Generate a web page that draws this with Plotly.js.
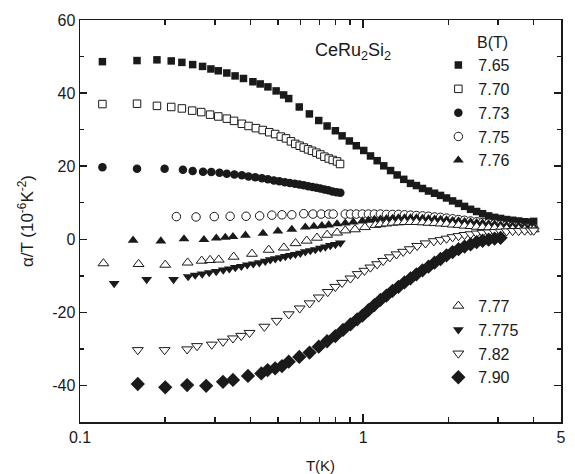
<!DOCTYPE html>
<html>
<head>
<meta charset="utf-8">
<script src="https://cdn.plot.ly/plotly-3.0.1.min.js"></script>
<style>
html,body{margin:0;padding:0;background:#fff;}
#chart{width:575px;height:474px;}
</style>
</head>
<body>
<div id="chart"></div>
<script>
// Series labels (field B in tesla)
const labels = ["7.65","7.70","7.73","7.75","7.76","7.77","7.775","7.82","7.90"];

// T (K) and alpha/T (1e-6 K^-2) for each field
const t765 = [0.120,0.159,0.187,0.210,0.229,0.250,0.271,0.290,0.308,0.330,0.353,0.378,0.408,0.433,0.461,0.493,0.524,0.546,0.595,0.646,0.697,0.746,0.798,0.843,0.894,0.946,1.005,1.062,1.121,1.183,1.250,1.319,1.392,1.470,1.543,1.621,1.702,1.788,1.877,1.971,2.070,2.173,2.282,2.396,2.517,2.642,2.775,2.914,3.059,3.212,3.374,3.543,3.720,3.906,4.003];
const a765 = [48.6,48.9,49.1,48.8,48.4,47.8,47.3,46.6,46.1,45.5,44.7,44.0,43.1,42.5,41.7,40.6,39.5,38.5,36.2,34.3,32.5,31.0,29.7,28.3,26.9,25.6,24.3,22.8,21.5,20.1,18.8,17.6,16.4,15.3,14.7,13.9,13.2,12.6,12.0,11.3,10.5,9.8,9.0,8.2,7.6,7.0,6.4,6.0,5.7,5.4,5.2,5.0,4.8,4.7,4.9];

const t770 = [0.120,0.159,0.187,0.210,0.229,0.249,0.268,0.288,0.308,0.330,0.350,0.373,0.394,0.418,0.442,0.466,0.489,0.512,0.534,0.556,0.576,0.597,0.617,0.639,0.660,0.684,0.706,0.730,0.756,0.781,0.809,0.829];
const a770 = [37.0,37.1,36.5,36.2,35.8,35.2,34.8,34.1,33.6,33.0,32.4,31.6,31.0,30.4,29.9,29.3,28.8,28.1,27.6,26.8,26.1,25.6,25.1,24.6,24.2,23.7,23.2,22.6,22.1,21.7,21.3,20.6];

const t773 = [0.120,0.159,0.199,0.231,0.250,0.272,0.291,0.311,0.330,0.351,0.373,0.394,0.416,0.439,0.461,0.484,0.506,0.529,0.551,0.574,0.595,0.617,0.640,0.662,0.684,0.706,0.730,0.754,0.779,0.805,0.831];
const a773 = [19.7,19.3,19.3,19.0,18.7,18.5,18.4,18.2,17.9,17.7,17.5,17.2,17.0,16.7,16.4,16.1,15.9,15.6,15.4,15.2,15.0,14.8,14.5,14.3,14.1,13.9,13.6,13.4,13.1,12.9,12.7];

const t775 = [0.219,0.257,0.298,0.339,0.386,0.431,0.476,0.517,0.560,0.617,0.665,0.711,0.756,0.784,0.865,0.902,0.947,0.994,1.044,1.096,1.151,1.209,1.270,1.333,1.400,1.470,1.543,1.621,1.702,1.788,1.877,1.971,2.070,2.173,2.282,2.396,2.517,2.642,2.775,2.914,3.059,3.212,3.374,3.543,3.720,3.906,4.003];
const a775 = [6.2,6.1,6.2,6.3,6.3,6.4,6.6,6.7,6.7,7.0,6.9,6.9,6.9,6.9,6.9,6.9,6.9,6.9,6.9,6.9,6.9,6.8,6.8,6.8,6.7,6.6,6.5,6.4,6.3,6.1,6.0,5.8,5.6,5.4,5.2,5.0,4.8,4.6,4.4,4.2,4.0,3.8,3.6,3.5,3.3,3.2,3.1];

const t776 = [0.154,0.193,0.233,0.274,0.303,0.326,0.347,0.384,0.443,0.500,0.560,0.625,0.670,0.715,0.756,0.809,0.865,0.923,0.994,1.044,1.096,1.151,1.209,1.270,1.333,1.400,1.470,1.543,1.621,1.702,1.788,1.877,1.971,2.070,2.173,2.282,2.396,2.517,2.642,2.775,2.914,3.059,3.212,3.374,3.543,3.720,3.906,4.003];
const a776 = [-0.3,-0.5,0.1,-0.1,0.3,0.5,0.7,1.1,1.6,2.2,2.7,3.3,3.5,3.7,3.9,4.2,4.4,4.7,5.0,5.2,5.4,5.5,5.6,5.7,5.8,5.8,5.8,5.8,5.7,5.6,5.5,5.4,5.3,5.1,5.0,4.8,4.7,4.5,4.4,4.2,4.1,3.9,3.8,3.7,3.6,3.5,3.4,3.4];

const t777 = [0.121,0.161,0.200,0.240,0.269,0.288,0.309,0.349,0.405,0.464,0.525,0.577,0.632,0.687,0.746,0.809,0.865,0.936,1.015,1.105,1.151,1.209,1.270,1.333,1.400,1.470,1.543,1.621,1.702,1.788,1.877,1.971,2.070,2.173,2.282,2.396,2.517,2.642,2.775,2.914,3.059,3.212,3.374,3.543,3.720,3.906,4.003];
const a777 = [-6.6,-6.8,-7.0,-6.4,-5.9,-5.7,-5.6,-4.8,-4.0,-2.9,-2.3,-1.1,-0.4,0.4,1.2,1.8,2.4,2.7,3.3,3.9,4.1,4.3,4.5,4.6,4.7,4.7,4.7,4.6,4.5,4.4,4.3,4.2,4.0,3.9,3.7,3.6,3.4,3.3,3.2,3.1,3.0,2.9,2.8,2.8,2.7,2.7,2.7];

const t7775 = [0.132,0.172,0.214,0.241,0.2551,0.2701,0.2860,0.3028,0.3206,0.3368,0.3537,0.3713,0.3898,0.4093,0.4298,0.4513,0.4700,0.4895,0.5099,0.5311,0.5532,0.5761,0.6001,0.6250,0.6510,0.6780,0.7063,0.7356,0.7661,0.7980,0.8311];
const a7775 = [-12.1,-11.0,-11.0,-10.2,-9.8,-9.5,-9.1,-8.8,-8.4,-8.1,-7.7,-7.4,-7.0,-6.7,-6.4,-6.0,-5.6,-5.3,-5.0,-4.7,-4.4,-4.1,-3.8,-3.4,-3.1,-2.8,-2.4,-2.1,-1.7,-1.4,-1.0];

const t782 = [0.160,0.199,0.239,0.259,0.292,0.320,0.347,0.371,0.397,0.448,0.495,0.546,0.597,0.647,0.697,0.750,0.798,0.843,0.902,0.957,1.011,1.061,1.121,1.177,1.242,1.312,1.385,1.462,1.552,1.661,1.777,1.877,1.971,2.070,2.173,2.282,2.396,2.517,2.642,2.775,2.914,3.059,3.212,3.374,3.543,3.720,3.906,4.003];
const a782 = [-30.3,-30.3,-30.1,-29.2,-28.8,-28.0,-27.1,-26.4,-25.6,-23.9,-22.3,-20.5,-18.9,-17.5,-15.9,-14.4,-13.0,-11.9,-10.7,-9.5,-8.6,-7.7,-6.8,-5.9,-4.9,-4.1,-3.4,-2.7,-1.8,-1.1,-0.5,-0.2,0.2,0.6,0.9,1.2,1.4,1.6,1.8,1.9,2.0,2.1,2.2,2.3,2.3,2.4,2.4,2.4];

const t790 = [0.160,0.200,0.239,0.279,0.320,0.347,0.392,0.437,0.460,0.489,0.517,0.546,0.595,0.647,0.697,0.746,0.798,0.849,0.902,0.953,0.994,1.044,1.096,1.151,1.209,1.270,1.333,1.400,1.470,1.543,1.621,1.702,1.788,1.877,1.971,2.070,2.173,2.282,2.396,2.517,2.642,2.775,2.914,3.059];
const a790 = [-39.6,-40.5,-39.9,-40.1,-39.0,-38.5,-37.4,-36.7,-35.8,-35.3,-34.7,-33.5,-32.2,-31.0,-29.4,-27.9,-26.5,-24.8,-23.3,-21.9,-20.9,-19.4,-18.0,-16.6,-15.4,-14.1,-13.0,-11.8,-10.7,-9.6,-8.5,-7.5,-6.4,-5.4,-4.4,-3.5,-2.7,-2.0,-1.4,-0.8,-0.4,-0.1,0.2,0.4];

// Axis ticks
const xTickVals = [0.1, 1, 5];
const xTickText = ["0.1", "1", "5"];
const xMinorVals = [0.2,0.3,0.4,0.5,0.6,0.7,0.8,0.9,2,3,4];
const yTickVals = [-40,-20,0,20,40,60];
const yTickText = ["-40","-20","0","20","40","60"];
const yMinorVals = [-50,-30,-10,10,30,50];

const INK = "#1a1a1a";
function mk(x, y, name, symbol, size, open, legend) {
  return {
    type: "scatter", mode: "markers", x: x, y: y, name: name,
    legend: legend,
    marker: open
      ? {symbol: symbol, size: size, color: "#ffffff", line: {color: INK, width: 1}}
      : {symbol: symbol, size: size, color: INK, line: {color: INK, width: 0}},
    hoverinfo: "skip"
  };
}

const data = [
  mk(t765, a765, labels[0], "square", 7.5, false, "legend"),
  mk(t770, a770, labels[1], "square", 7.5, true, "legend"),
  mk(t773, a773, labels[2], "circle", 8.5, false, "legend"),
  mk(t775, a775, labels[3], "circle", 8.5, true, "legend"),
  mk(t776, a776, labels[4], "triangle-up", 9.5, false, "legend"),
  mk(t777, a777, labels[5], "triangle-up", 9.5, true, "legend2"),
  mk(t7775, a7775, labels[6], "triangle-down", 9.5, false, "legend2"),
  mk(t782, a782, labels[7], "triangle-down", 9.5, true, "legend2"),
  mk(t790, a790, labels[8], "diamond", 11, false, "legend2")
];

const FONT = "Liberation Sans, Arial, sans-serif";
const layout = {
  width: 575, height: 474,
  margin: {l: 80, r: 14, t: 20, b: 52},
  paper_bgcolor: "#ffffff", plot_bgcolor: "#ffffff",
  font: {family: FONT, size: 16, color: INK},
  showlegend: true,
  xaxis: {
    type: "log", range: [-1, 0.69897],
    tickmode: "array", tickvals: xTickVals, ticktext: xTickText,
    ticks: "inside", ticklen: 8, tickwidth: 1.5, tickcolor: INK,
    minor: {tickmode: "array", tickvals: xMinorVals, ticks: "inside", ticklen: 5, tickwidth: 1.5, tickcolor: INK},
    showline: true, linecolor: INK, linewidth: 1.5, mirror: "ticks",
    showgrid: false, zeroline: false,
    tickfont: {family: FONT, size: 16, color: INK},
    title: {text: "T(K)", font: {family: FONT, size: 15, color: INK}, standoff: 16}
  },
  yaxis: {
    range: [-50, 60],
    tickmode: "array", tickvals: yTickVals, ticktext: yTickText,
    ticks: "inside", ticklen: 7, tickwidth: 1.5, tickcolor: INK,
    minor: {tickmode: "array", tickvals: yMinorVals, ticks: "inside", ticklen: 4, tickwidth: 1.5, tickcolor: INK},
    showline: true, linecolor: INK, linewidth: 1.5, mirror: "ticks",
    showgrid: false, zeroline: false,
    tickfont: {family: FONT, size: 16, color: INK},
    title: {text: "α/T (10<sup>-6</sup>K<sup>-2</sup>)", font: {family: FONT, size: 17, color: INK}, standoff: 14}
  },
  legend: {
    x: 0.745, y: 0.93, xanchor: "left", yanchor: "top",
    bgcolor: "rgba(0,0,0,0)", borderwidth: 0,
    font: {family: FONT, size: 16, color: INK},
    tracegroupgap: 0, itemclick: false
  },
  legend2: {
    x: 0.745, y: 0.331, xanchor: "left", yanchor: "top",
    bgcolor: "rgba(0,0,0,0)", borderwidth: 0,
    font: {family: FONT, size: 16, color: INK},
    tracegroupgap: 0, itemclick: false
  },
  annotations: [
    {xref: "paper", yref: "paper", x: 0.858, y: 0.945, text: "B(T)", showarrow: false,
     xanchor: "center", yanchor: "middle", font: {family: FONT, size: 16, color: INK}},
    {xref: "paper", yref: "paper", x: 0.567, y: 0.922, text: "CeRu<sub>2</sub>Si<sub>2</sub>", showarrow: false,
     xanchor: "center", yanchor: "middle", font: {family: FONT, size: 18, color: INK}}
  ]
};

Plotly.newPlot("chart", data, layout, {displayModeBar: false, staticPlot: true});
</script>
</body>
</html>
